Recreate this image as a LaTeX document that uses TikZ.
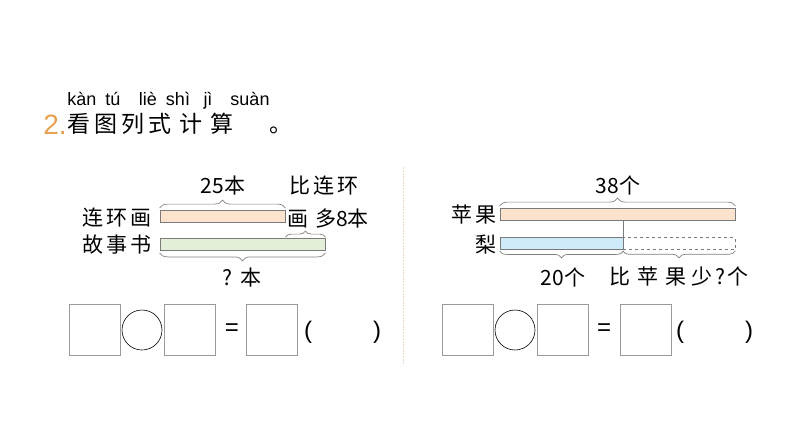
\documentclass[tikz,border=0pt]{standalone}
\usepackage{fontspec}
\setmainfont{Noto Sans CJK SC}
\newfontfamily\lat{Liberation Sans}
\usetikzlibrary{decorations.pathreplacing}
\definecolor{orfill}{HTML}{FCE3CD}
\definecolor{grfill}{HTML}{E3EFD8}
\definecolor{blfill}{HTML}{CFEAF8}
\definecolor{barline}{HTML}{7A7A7A}
\definecolor{titleor}{HTML}{E9A050}
\definecolor{divc}{HTML}{EADBC4}
\definecolor{boxline}{HTML}{9A9A9A}
\newcommand\zg{\hspace{3pt}}
\begin{document}
\begin{tikzpicture}[x=1pt,y=-1pt,
  lbl/.style={inner sep=0pt, font=\fontsize{21}{21}\selectfont},
  py/.style={inner sep=0pt, anchor=base, font=\lat\fontsize{18}{18}\selectfont},
  bar/.style={draw=barline, line width=0.8pt, inner sep=0pt, minimum height=12pt},
  brc/.style={draw=gray, line width=0.7pt, decorate, decoration={brace, amplitude=8pt, raise=2pt}},
  sbrc/.style={draw=gray, line width=0.7pt, decorate, decoration={brace, amplitude=6pt, raise=1pt}},
  sq/.style={draw=boxline, line width=1pt, minimum size=51pt, inner sep=0pt},
  circ/.style={circle, draw=black, line width=0.6pt, minimum size=40pt, inner sep=0pt},
  sym/.style={inner sep=0pt, font=\lat\fontsize{24}{24}\selectfont}]
\path[use as bounding box] (0,0) rectangle (794,447);

% title
\node[py] (p1) at (82,105) {kàn};
\node[py] (p2) at (113,105) {tú};
\node[py] (p3) at (148,105) {liè};
\node[py] (p4) at (178,105) {shì};
\node[py] (p5) at (208,105) {jì};
\node[py] (p6) at (250,105) {suàn};
\node[inner sep=0pt, text=titleor, font=\lat\fontsize{28}{28}\selectfont] (num) at (55,125) {2.};
\node[inner sep=0pt, anchor=west, font=\fontsize{23}{23}\selectfont] (title) at (67,124)
  {看\hspace{4pt}图\hspace{4pt}列\hspace{4pt}式\hspace{8pt}计\hspace{8pt}算\hspace{36pt}。};

% divider
\draw[divc, line width=1pt, dash pattern=on 1.5pt off 1.5pt] (403,167) -- (403,365);

% left diagram
\node[bar, fill=orfill, minimum width=125pt] (lh) at (222.5,216.5) {};
\node[bar, fill=grfill, minimum width=165pt] (gs) at (242.5,244.5) {};
\draw[brc] (lh.north west) -- (lh.north east);
\draw[sbrc] (lh.south east |- gs.north) -- (gs.north east);
\draw[brc] (gs.south east) -- (gs.south west);
\node[lbl] (l25) at (223,186) {25本};
\node[lbl] (lbi) at (324,186) {比\zg 连\zg 环};
\node[lbl] (lhua) at (298,219) {画};
\node[lbl] (lduo) at (342,219) {多8本};
\node[lbl] (llh) at (117,218) {连\zg 环\zg 画};
\node[lbl] (lgs) at (117,245) {故\zg 事\zg 书};
\node[lbl] (lq) at (242,278) {?\hspace{9pt}本};

% right diagram
\node[bar, fill=orfill, minimum width=235pt] (ap) at (617.5,214.5) {};
\node[bar, fill=blfill, minimum width=123pt] (pr) at (561.5,243.5) {};
\node[bar, dashed, line width=0.6pt, minimum width=112pt] (pd) at (679,243.5) {};
\draw[barline, line width=0.6pt] (pr.north east) -- (pr.north east |- ap.south);
\draw[brc] (ap.north west) -- (ap.north east);
\draw[sbrc, decoration={brace, amplitude=7pt, raise=1pt}] (pr.south east) -- (pr.south west);
\draw[sbrc, decoration={brace, amplitude=7pt, raise=1pt}] (pd.south east) -- (pd.south west);
\node[lbl] (r38) at (618,185) {38个};
\node[lbl] (rap) at (474,215) {苹\zg 果};
\node[lbl] (rpr) at (486,245) {梨};
\node[lbl] (r20) at (563,277) {20个};
\node[lbl] (rq) at (679,277) {比\hspace{7pt}苹\hspace{7pt}果\hspace{5pt}少\hspace{3pt}?\hspace{3pt}个};

% left equation
\node[sq] (a1) at (94.5,329.5) {};
\node[circ] (ac) at (142,330) {};
\node[sq] (a2) at (190,329.5) {};
\node[sym] (aeq) at (232,330) {=};
\node[sq] (a3) at (272,329.5) {};
\node[sym] (alp) at (308,332) {(};
\node[sym] (arp) at (377,332) {)};

% right equation
\node[sq] (b1) at (467.5,329.5) {};
\node[circ] (bc) at (515,330) {};
\node[sq] (b2) at (563,329.5) {};
\node[sym] (beq) at (604,330) {=};
\node[sq] (b3) at (645.5,329.5) {};
\node[sym] (blp) at (680,332) {(};
\node[sym] (brp) at (749,332) {)};
\end{tikzpicture}
\end{document}
